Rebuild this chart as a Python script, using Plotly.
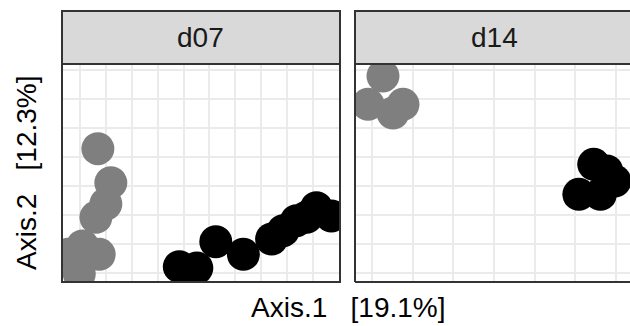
import plotly.graph_objects as go

# Ordination scores (Axis.1, Axis.2) per sampling day and group
d07_grey_x = [-0.4154, -0.3904, -0.4, -0.4192, -0.4449, -0.4128, -0.4513, -0.4731]
d07_grey_y = [0.0143, -0.0443, -0.0810, -0.1040, -0.1534, -0.1678, -0.2017, -0.1678]
d07_black_x = [-0.2582, -0.2244, -0.1878, -0.1346, -0.0801, -0.0577, -0.0321, -0.0128, 0.0064, 0.0353]
d07_black_y = [-0.1891, -0.1914, -0.1460, -0.1678, -0.1414, -0.1270, -0.1098, -0.1040, -0.0874, -0.1017]
d14_grey_x = [-0.1365, -0.1549, -0.1242, -0.1119]
d14_grey_y = [0.1397, 0.0908, 0.0759, 0.0908]
d14_black_x = [0.1043, 0.1226, 0.1308, 0.1387, 0.1485]
d14_black_y = [-0.0644, -0.0126, -0.0644, -0.0242, -0.0414]
panels = ["d07", "d14"]
x_title = "Axis.1   [19.1%]"
y_title = "Axis.2   [12.3%]"

W, H = 630, 326
GREY, BLACK = "#7f7f7f", "#000000"
GRID = "#ebebeb"
BORDER = "#333333"
STRIP = "#d9d9d9"
FONT = "Liberation Sans, Arial, sans-serif"

# panel pixel geometry
p1_l, p1_r = 62, 340
p2_l, p2_r = 355, 630
p_top, p_bot = 64, 282
s_top = 11


def px(v):
    return v / W


def py(v):
    return 1 - v / H


fig = go.Figure()
marker = dict(size=33, line=dict(width=0))
fig.add_trace(go.Scatter(x=d07_grey_x, y=d07_grey_y, mode="markers",
                         marker=dict(color=GREY, **marker), xaxis="x", yaxis="y"))
fig.add_trace(go.Scatter(x=d07_black_x, y=d07_black_y, mode="markers",
                         marker=dict(color=BLACK, **marker), xaxis="x", yaxis="y"))
fig.add_trace(go.Scatter(x=d14_grey_x, y=d14_grey_y, mode="markers",
                         marker=dict(color=GREY, **marker), xaxis="x2", yaxis="y"))
fig.add_trace(go.Scatter(x=d14_black_x, y=d14_black_y, mode="markers",
                         marker=dict(color=BLACK, **marker), xaxis="x2", yaxis="y"))

grid_common = dict(showgrid=True, gridcolor=GRID, gridwidth=2, zeroline=False,
                   showticklabels=False, ticks="", showline=False,
                   minor=dict(showgrid=True, gridcolor=GRID, gridwidth=1.5, dtick=0.05))

fig.update_layout(
    width=W, height=H, margin=dict(l=0, r=0, t=0, b=0),
    paper_bgcolor="white", plot_bgcolor="white", showlegend=False,
    xaxis=dict(domain=[px(p1_l), px(p1_r)], range=[-0.4846, 0.0519],
               tick0=0, dtick=0.1, **grid_common),
    xaxis2=dict(domain=[px(p2_l), px(p2_r)], range=[-0.1709, 0.1672],
                tick0=0, dtick=0.1, **grid_common),
    yaxis=dict(domain=[py(p_bot), py(p_top)], range=[-0.2155, 0.1603],
               tick0=0, dtick=0.1, **grid_common),
)

shapes = []
# strips
for l, r in [(p1_l, p1_r), (p2_l, p2_r + 10)]:
    shapes.append(dict(type="rect", xref="paper", yref="paper", layer="above",
                       x0=px(l), x1=px(r), y0=py(p_top), y1=py(s_top),
                       fillcolor=STRIP, line=dict(color=BORDER, width=2)))
# panel borders
shapes.append(dict(type="rect", xref="paper", yref="paper", layer="above",
                   x0=px(p1_l), x1=px(p1_r), y0=py(p_bot), y1=py(p_top),
                   line=dict(color=BORDER, width=2)))
for (x0, y0, x1, y1) in [(p2_l, p_top, p2_l, p_bot), (p2_l, p_bot, p2_r + 5, p_bot),
                         (p2_l, p_top, p2_r + 5, p_top)]:
    shapes.append(dict(type="line", xref="paper", yref="paper", layer="above",
                       x0=px(x0), x1=px(x1), y0=py(y0), y1=py(y1),
                       line=dict(color=BORDER, width=2)))
fig.update_layout(shapes=shapes)

annotations = []
for name, cx in zip(panels, [(p1_l + p1_r) / 2, (p2_l + 634) / 2]):
    annotations.append(dict(text=name, x=px(cx), y=py((s_top + p_top) / 2),
                            xref="paper", yref="paper", showarrow=False,
                            xanchor="center", yanchor="middle",
                            font=dict(family=FONT, size=28, color="#1a1a1a")))
annotations.append(dict(text=x_title, x=px(348), y=py(307), xref="paper", yref="paper",
                        showarrow=False, xanchor="center", yanchor="middle",
                        font=dict(family=FONT, size=28, color="#000000")))
annotations.append(dict(text=y_title, x=px(26), y=py(173), xref="paper", yref="paper",
                        showarrow=False, xanchor="center", yanchor="middle", textangle=-90,
                        font=dict(family=FONT, size=28, color="#000000")))
fig.update_layout(annotations=annotations)

fig.write_html("out.html")
